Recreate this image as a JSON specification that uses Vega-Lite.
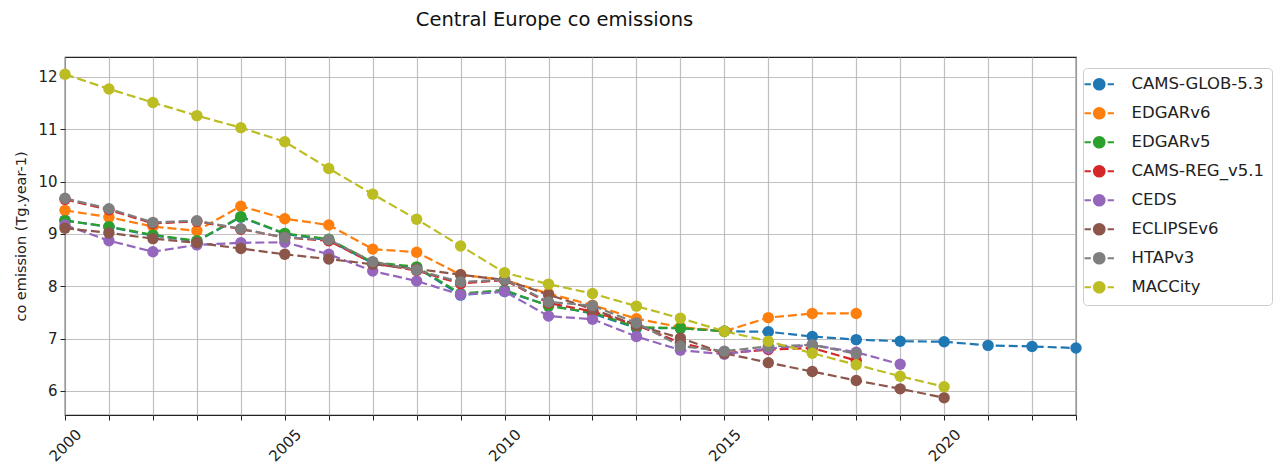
{
  "$schema": "https://vega.github.io/schema/vega-lite/v6.json",
  "width": 1011,
  "height": 358,
  "autosize": {"type": "none"},
  "padding": {"left": 65, "top": 57, "right": 200, "bottom": 53},
  "background": "white",
  "title": {"text": "Central Europe co emissions", "font": "DejaVu Sans", "fontSize": 19.5, "fontWeight": "normal", "color": "#111", "anchor": "middle", "dx": -16, "offset": 27},
  "config": {
    "font": "DejaVu Sans",
    "view": {"stroke": "#222", "strokeWidth": 1.2},
    "axis": {"gridColor": "#b0b0b0", "gridWidth": 1.2, "gridOpacity": 0.8, "domain": false, "tickColor": "#222", "tickSize": 5, "labelFont": "DejaVu Sans", "labelFontSize": 15, "labelColor": "#222", "titleFont": "DejaVu Sans", "titleFontSize": 14.5, "titleFontWeight": "normal", "titleColor": "#222"}
  },
  "data": {"values": [
    {"d":"CAMS-GLOB-5.3","y":2000,"v":9.26},{"d":"CAMS-GLOB-5.3","y":2001,"v":9.13},{"d":"CAMS-GLOB-5.3","y":2002,"v":8.97},{"d":"CAMS-GLOB-5.3","y":2003,"v":8.86},{"d":"CAMS-GLOB-5.3","y":2004,"v":9.32},{"d":"CAMS-GLOB-5.3","y":2005,"v":9.0},{"d":"CAMS-GLOB-5.3","y":2006,"v":8.88},{"d":"CAMS-GLOB-5.3","y":2007,"v":8.44},{"d":"CAMS-GLOB-5.3","y":2008,"v":8.36},{"d":"CAMS-GLOB-5.3","y":2009,"v":7.83},{"d":"CAMS-GLOB-5.3","y":2010,"v":7.9},{"d":"CAMS-GLOB-5.3","y":2011,"v":7.64},{"d":"CAMS-GLOB-5.3","y":2012,"v":7.48},{"d":"CAMS-GLOB-5.3","y":2013,"v":7.2},{"d":"CAMS-GLOB-5.3","y":2014,"v":7.2},{"d":"CAMS-GLOB-5.3","y":2015,"v":7.14},{"d":"CAMS-GLOB-5.3","y":2016,"v":7.13},{"d":"CAMS-GLOB-5.3","y":2017,"v":7.04},{"d":"CAMS-GLOB-5.3","y":2018,"v":6.98},{"d":"CAMS-GLOB-5.3","y":2019,"v":6.95},{"d":"CAMS-GLOB-5.3","y":2020,"v":6.94},{"d":"CAMS-GLOB-5.3","y":2021,"v":6.87},{"d":"CAMS-GLOB-5.3","y":2022,"v":6.85},{"d":"CAMS-GLOB-5.3","y":2023,"v":6.82},
    {"d":"EDGARv6","y":2000,"v":9.45},{"d":"EDGARv6","y":2001,"v":9.32},{"d":"EDGARv6","y":2002,"v":9.14},{"d":"EDGARv6","y":2003,"v":9.06},{"d":"EDGARv6","y":2004,"v":9.53},{"d":"EDGARv6","y":2005,"v":9.29},{"d":"EDGARv6","y":2006,"v":9.17},{"d":"EDGARv6","y":2007,"v":8.71},{"d":"EDGARv6","y":2008,"v":8.65},{"d":"EDGARv6","y":2009,"v":8.22},{"d":"EDGARv6","y":2010,"v":8.12},{"d":"EDGARv6","y":2011,"v":7.86},{"d":"EDGARv6","y":2012,"v":7.64},{"d":"EDGARv6","y":2013,"v":7.38},{"d":"EDGARv6","y":2014,"v":7.22},{"d":"EDGARv6","y":2015,"v":7.14},{"d":"EDGARv6","y":2016,"v":7.4},{"d":"EDGARv6","y":2017,"v":7.48},{"d":"EDGARv6","y":2018,"v":7.48},
    {"d":"EDGARv5","y":2000,"v":9.25},{"d":"EDGARv5","y":2001,"v":9.14},{"d":"EDGARv5","y":2002,"v":8.98},{"d":"EDGARv5","y":2003,"v":8.87},{"d":"EDGARv5","y":2004,"v":9.33},{"d":"EDGARv5","y":2005,"v":9.01},{"d":"EDGARv5","y":2006,"v":8.9},{"d":"EDGARv5","y":2007,"v":8.46},{"d":"EDGARv5","y":2008,"v":8.37},{"d":"EDGARv5","y":2009,"v":7.86},{"d":"EDGARv5","y":2010,"v":7.93},{"d":"EDGARv5","y":2011,"v":7.62},{"d":"EDGARv5","y":2012,"v":7.5},{"d":"EDGARv5","y":2013,"v":7.22},{"d":"EDGARv5","y":2014,"v":7.2},{"d":"EDGARv5","y":2015,"v":7.14},
    {"d":"CAMS-REG_v5.1","y":2000,"v":9.66},{"d":"CAMS-REG_v5.1","y":2001,"v":9.46},{"d":"CAMS-REG_v5.1","y":2002,"v":9.2},{"d":"CAMS-REG_v5.1","y":2003,"v":9.24},{"d":"CAMS-REG_v5.1","y":2004,"v":9.09},{"d":"CAMS-REG_v5.1","y":2005,"v":8.93},{"d":"CAMS-REG_v5.1","y":2006,"v":8.87},{"d":"CAMS-REG_v5.1","y":2007,"v":8.44},{"d":"CAMS-REG_v5.1","y":2008,"v":8.3},{"d":"CAMS-REG_v5.1","y":2009,"v":8.05},{"d":"CAMS-REG_v5.1","y":2010,"v":8.12},{"d":"CAMS-REG_v5.1","y":2011,"v":7.68},{"d":"CAMS-REG_v5.1","y":2012,"v":7.52},{"d":"CAMS-REG_v5.1","y":2013,"v":7.26},{"d":"CAMS-REG_v5.1","y":2014,"v":6.92},{"d":"CAMS-REG_v5.1","y":2015,"v":6.72},{"d":"CAMS-REG_v5.1","y":2016,"v":6.79},{"d":"CAMS-REG_v5.1","y":2017,"v":6.82},{"d":"CAMS-REG_v5.1","y":2018,"v":6.58},
    {"d":"CEDS","y":2000,"v":9.17},{"d":"CEDS","y":2001,"v":8.87},{"d":"CEDS","y":2002,"v":8.66},{"d":"CEDS","y":2003,"v":8.79},{"d":"CEDS","y":2004,"v":8.83},{"d":"CEDS","y":2005,"v":8.84},{"d":"CEDS","y":2006,"v":8.61},{"d":"CEDS","y":2007,"v":8.29},{"d":"CEDS","y":2008,"v":8.1},{"d":"CEDS","y":2009,"v":7.84},{"d":"CEDS","y":2010,"v":7.9},{"d":"CEDS","y":2011,"v":7.43},{"d":"CEDS","y":2012,"v":7.37},{"d":"CEDS","y":2013,"v":7.04},{"d":"CEDS","y":2014,"v":6.78},{"d":"CEDS","y":2015,"v":6.7},{"d":"CEDS","y":2016,"v":6.81},{"d":"CEDS","y":2017,"v":6.88},{"d":"CEDS","y":2018,"v":6.74},{"d":"CEDS","y":2019,"v":6.51},
    {"d":"ECLIPSEv6","y":2000,"v":9.11},{"d":"ECLIPSEv6","y":2001,"v":9.02},{"d":"ECLIPSEv6","y":2002,"v":8.91},{"d":"ECLIPSEv6","y":2003,"v":8.83},{"d":"ECLIPSEv6","y":2004,"v":8.72},{"d":"ECLIPSEv6","y":2005,"v":8.61},{"d":"ECLIPSEv6","y":2006,"v":8.52},{"d":"ECLIPSEv6","y":2007,"v":8.42},{"d":"ECLIPSEv6","y":2008,"v":8.33},{"d":"ECLIPSEv6","y":2009,"v":8.22},{"d":"ECLIPSEv6","y":2010,"v":8.12},{"d":"ECLIPSEv6","y":2011,"v":7.84},{"d":"ECLIPSEv6","y":2012,"v":7.56},{"d":"ECLIPSEv6","y":2013,"v":7.26},{"d":"ECLIPSEv6","y":2014,"v":7.01},{"d":"ECLIPSEv6","y":2015,"v":6.72},{"d":"ECLIPSEv6","y":2016,"v":6.54},{"d":"ECLIPSEv6","y":2017,"v":6.37},{"d":"ECLIPSEv6","y":2018,"v":6.2},{"d":"ECLIPSEv6","y":2019,"v":6.04},{"d":"ECLIPSEv6","y":2020,"v":5.87},
    {"d":"HTAPv3","y":2000,"v":9.68},{"d":"HTAPv3","y":2001,"v":9.48},{"d":"HTAPv3","y":2002,"v":9.22},{"d":"HTAPv3","y":2003,"v":9.25},{"d":"HTAPv3","y":2004,"v":9.1},{"d":"HTAPv3","y":2005,"v":8.93},{"d":"HTAPv3","y":2006,"v":8.89},{"d":"HTAPv3","y":2007,"v":8.47},{"d":"HTAPv3","y":2008,"v":8.31},{"d":"HTAPv3","y":2009,"v":8.08},{"d":"HTAPv3","y":2010,"v":8.13},{"d":"HTAPv3","y":2011,"v":7.7},{"d":"HTAPv3","y":2012,"v":7.63},{"d":"HTAPv3","y":2013,"v":7.3},{"d":"HTAPv3","y":2014,"v":6.86},{"d":"HTAPv3","y":2015,"v":6.76},{"d":"HTAPv3","y":2016,"v":6.85},{"d":"HTAPv3","y":2017,"v":6.88},{"d":"HTAPv3","y":2018,"v":6.71},
    {"d":"MACCity","y":2000,"v":12.05},{"d":"MACCity","y":2001,"v":11.77},{"d":"MACCity","y":2002,"v":11.51},{"d":"MACCity","y":2003,"v":11.26},{"d":"MACCity","y":2004,"v":11.03},{"d":"MACCity","y":2005,"v":10.76},{"d":"MACCity","y":2006,"v":10.25},{"d":"MACCity","y":2007,"v":9.76},{"d":"MACCity","y":2008,"v":9.28},{"d":"MACCity","y":2009,"v":8.77},{"d":"MACCity","y":2010,"v":8.26},{"d":"MACCity","y":2011,"v":8.04},{"d":"MACCity","y":2012,"v":7.86},{"d":"MACCity","y":2013,"v":7.62},{"d":"MACCity","y":2014,"v":7.39},{"d":"MACCity","y":2015,"v":7.14},{"d":"MACCity","y":2016,"v":6.95},{"d":"MACCity","y":2017,"v":6.72},{"d":"MACCity","y":2018,"v":6.5},{"d":"MACCity","y":2019,"v":6.28},{"d":"MACCity","y":2020,"v":6.08}
  ]},
  "encoding": {
    "x": {"field": "y", "type": "quantitative", "scale": {"domain": [2000, 2023], "nice": false, "zero": false},
      "axis": {"title": null, "values": [2000,2001,2002,2003,2004,2005,2006,2007,2008,2009,2010,2011,2012,2013,2014,2015,2016,2017,2018,2019,2020,2021,2022,2023],
        "labelExpr": "datum.value % 5 === 0 ? datum.value : ''", "labelAngle": -45, "labelAlign": "center", "labelBaseline": "middle", "labelPadding": 25, "labelFlush": false, "labelOverlap": false}},
    "y": {"field": "v", "type": "quantitative", "scale": {"domain": [5.54, 12.38], "nice": false, "zero": false},
      "axis": {"title": "co emission (Tg.year-1)", "values": [6,7,8,9,10,11,12], "labelPadding": 3, "titlePadding": 9}},
    "color": {"field": "d", "type": "nominal",
      "scale": {"domain": ["CAMS-GLOB-5.3","EDGARv6","EDGARv5","CAMS-REG_v5.1","CEDS","ECLIPSEv6","HTAPv3","MACCity"],
        "range": ["#1f77b4","#ff7f0e","#2ca02c","#d62728","#9467bd","#8c564b","#7f7f7f","#bcbd22"]},
      "legend": {"title": null, "orient": "none", "legendX": 1018, "legendY": 11, "labelFontSize": 16.5, "labelFont": "DejaVu Sans", "labelColor": "#222",
        "symbolType": "M-2.8,0H-1.6 M-1,0A1,1 0 1,0 1,0A1,1 0 1,0 -1,0 M1.6,0H2.8", "symbolSize": 110, "symbolStrokeWidth": 2.2,
        "rowPadding": 9, "labelOffset": 24, "padding": 8, "strokeColor": "#cccccc", "cornerRadius": 4, "fillColor": "white",
        "encode": {"symbols": {"update": {"fill": {"scale": "color", "field": "value"}, "stroke": {"scale": "color", "field": "value"}, "opacity": {"value": 1}}}}}}
  },
  "layer": [
    {"mark": {"type": "line", "strokeWidth": 2.2, "strokeDash": [9, 4]}},
    {"mark": {"type": "point", "filled": true, "size": 130, "opacity": 1}}
  ]
}
